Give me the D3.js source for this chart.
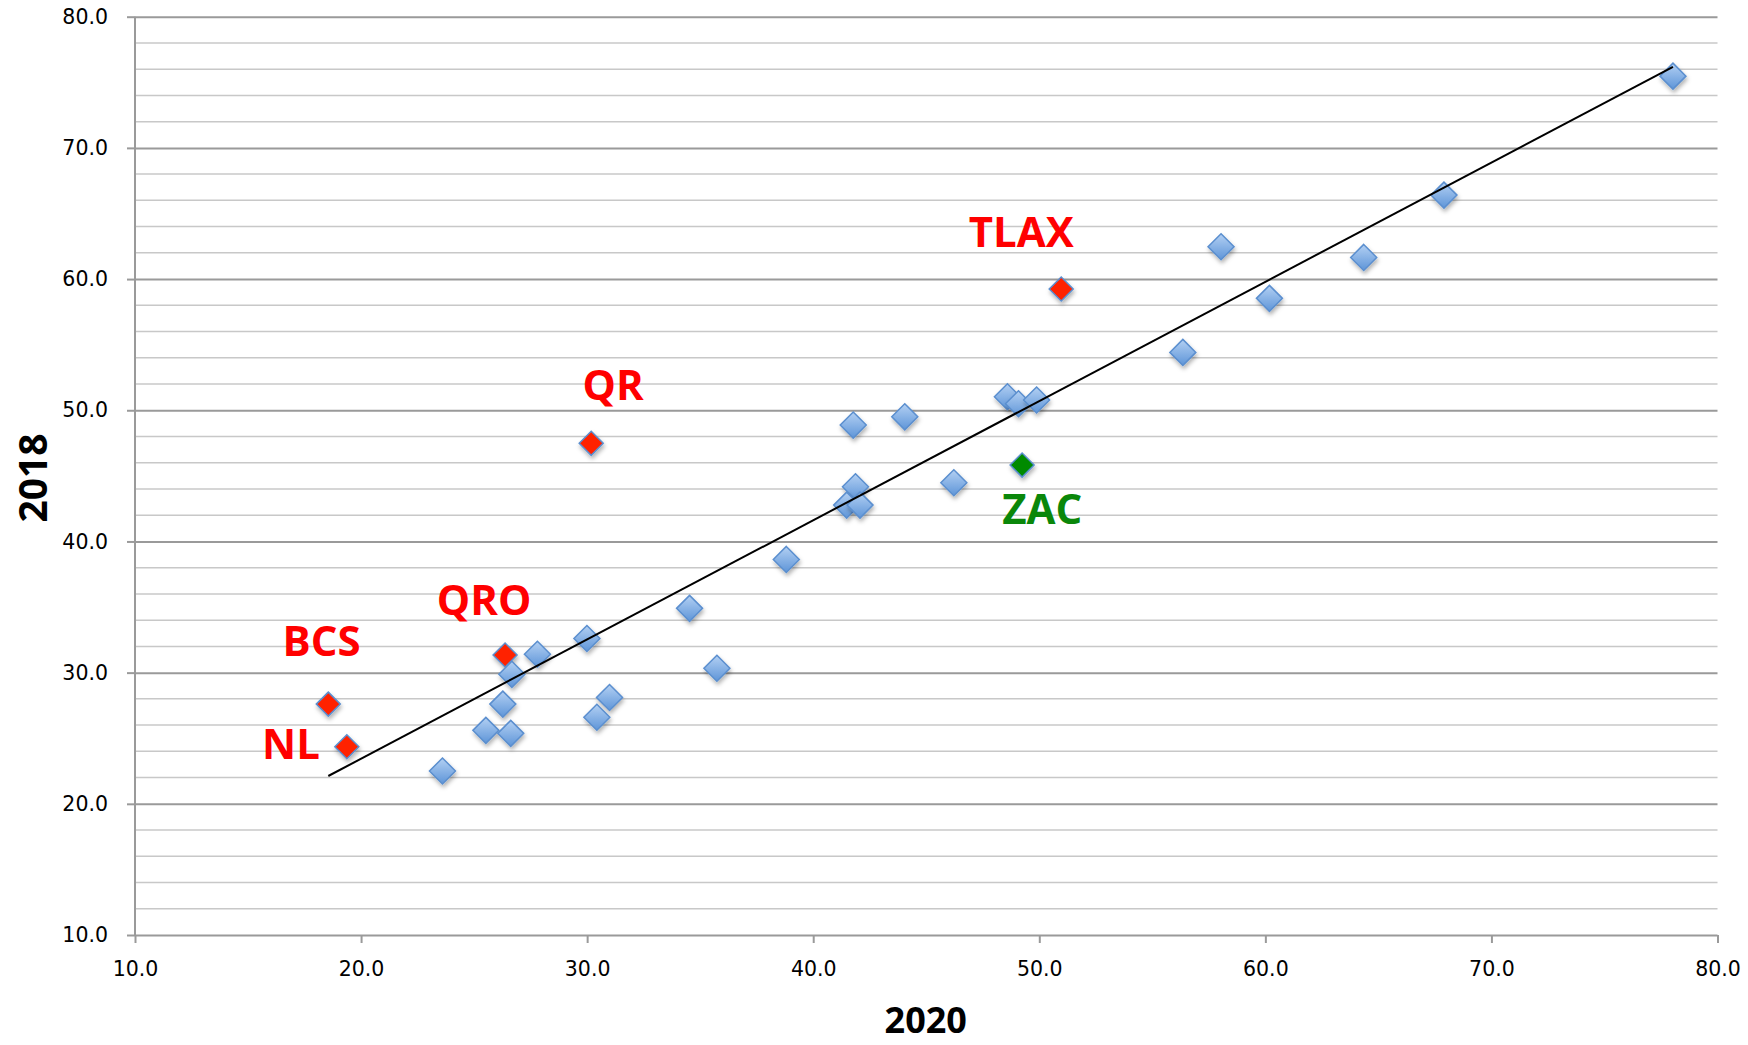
<!DOCTYPE html>
<html>
<head>
<meta charset="utf-8">
<script src="https://cdn.jsdelivr.net/npm/d3@7"></script>
<style>
  html, body { margin: 0; padding: 0; background: #fff; }
  svg { display: block; }
</style>
</head>
<body>
<svg id="chart" width="1748" height="1045"></svg>
<script>
// ---- data (x = 2020, y = 2018) ----
const xValues = [18.55, 19.37, 26.37, 27.8, 26.67, 26.27, 25.52, 26.62, 23.6, 29.99, 30.99, 30.43,
                 30.18, 41.77, 44.05, 48.59, 49.08, 49.88, 49.24, 46.22, 41.87, 41.48, 42.07, 38.81,
                 50.97, 58.04, 60.18, 64.35, 56.35, 67.9, 78.03, 34.53, 35.74];
const yValues = [27.6, 24.35, 31.34, 31.4, 29.87, 27.6, 25.6, 25.37, 22.5, 32.6, 28.1, 26.6,
                 47.48, 48.87, 49.5, 51.03, 50.5, 50.78, 45.82, 44.47, 44.17, 42.77, 42.77, 38.63,
                 59.24, 62.46, 58.53, 61.65, 54.41, 66.4, 75.47, 34.9, 30.33];
const groups  = ["red", "red", "red", "blue", "blue", "blue", "blue", "blue", "blue", "blue", "blue", "blue",
                 "red", "blue", "blue", "blue", "blue", "blue", "green", "blue", "blue", "blue", "blue", "blue",
                 "red", "blue", "blue", "blue", "blue", "blue", "blue", "blue", "blue"];
const trendX = [18.55, 78.03];
const trendY = [22.12, 76.18];
const labelTexts = ["TLAX", "QR", "QRO", "BCS", "NL", "ZAC"];
const labelX     = [49.2, 31.15, 25.44, 18.25, 16.9, 50.13];
const labelY     = [62.42, 50.75, 34.4, 31.25, 23.4, 41.3];
const labelGroup = ["red", "red", "red", "red", "red", "green"];
const xTicks = [10, 20, 30, 40, 50, 60, 70, 80];
const yTicks = [10, 20, 30, 40, 50, 60, 70, 80];
const xTitle = "2020";
const yTitle = "2018";

(function () {
// ---- layout ----
const svg = d3.select("#chart");
const mLeft = 135, mRight = 1717.5, mTop = 16.7, mBottom = 935;
const x = d3.scaleLinear().domain([10, 80]).range([mLeft, mRight]);
const y = d3.scaleLinear().domain([10, 80]).range([mBottom, mTop]);
const fmt = d3.format(".1f");
const labelFont = "'DejaVu Sans', sans-serif";
const boldFont = "'Open Sans', 'Liberation Sans', sans-serif";

const defs = svg.append("defs");
const grad = defs.append("linearGradient").attr("id", "blueGrad")
  .attr("x1", 0).attr("y1", 0).attr("x2", 0).attr("y2", 1);
grad.append("stop").attr("offset", "0%").attr("stop-color", "#b3d0f3");
grad.append("stop").attr("offset", "100%").attr("stop-color", "#5e95d8");
const shadow = defs.append("filter").attr("id", "shadow")
  .attr("x", "-50%").attr("y", "-50%").attr("width", "200%").attr("height", "200%");
shadow.append("feDropShadow").attr("dx", 1).attr("dy", 3).attr("stdDeviation", 2)
  .attr("flood-color", "#000").attr("flood-opacity", 0.3);

// minor gridlines every 2
const minor = d3.range(12, 80, 2).filter(v => v % 10 !== 0);
svg.append("g").selectAll("line").data(minor).join("line")
  .attr("x1", mLeft).attr("x2", mRight)
  .attr("y1", d => y(d)).attr("y2", d => y(d))
  .attr("stroke", "#c8c8c8").attr("stroke-width", 1.5);

// major gridlines via axis
const yAxis = svg.append("g").attr("transform", `translate(${mLeft},0)`)
  .call(d3.axisLeft(y).tickValues(yTicks).tickFormat(fmt).tickSize(8).tickPadding(19));
yAxis.select(".domain").remove();
yAxis.selectAll(".tick line").attr("stroke", "#9a9a9a").attr("stroke-width", 2);
yAxis.selectAll(".tick").append("line")
  .attr("x1", 0).attr("x2", mRight - mLeft)
  .attr("stroke", "#9a9a9a").attr("stroke-width", 2);
yAxis.selectAll("text").attr("font-family", labelFont).attr("font-size", "20.5px").attr("fill", "#000");

const xAxis = svg.append("g").attr("transform", `translate(0,${mBottom})`)
  .call(d3.axisBottom(x).tickValues(xTicks).tickFormat(fmt).tickSize(8).tickPadding(18));
xAxis.select(".domain").remove();
xAxis.selectAll(".tick line").attr("stroke", "#9a9a9a").attr("stroke-width", 2);
xAxis.selectAll("text").attr("font-family", labelFont).attr("font-size", "20.5px").attr("fill", "#000");

// y axis line
svg.append("line").attr("x1", mLeft).attr("x2", mLeft).attr("y1", mTop).attr("y2", mBottom)
  .attr("stroke", "#9a9a9a").attr("stroke-width", 2);

// points
const pts = xValues.map((v, i) => ({ x: v, y: yValues[i], g: groups[i] }));
const fills = { blue: "url(#blueGrad)", red: "#ff2200", green: "#008a00" };
const sizes = { blue: 13, red: 12, green: 12 };
svg.append("g").selectAll("path").data(pts).join("path")
  .attr("d", d => { const s = sizes[d.g]; return `M0,${-s}L${s},0L0,${s}L${-s},0Z`; })
  .attr("transform", d => `translate(${x(d.x)},${y(d.y)})`)
  .attr("fill", d => fills[d.g])
  .attr("stroke", "#5b8fcf").attr("stroke-width", 1.5)
  .attr("filter", "url(#shadow)");

// trendline
svg.append("line")
  .attr("x1", x(trendX[0])).attr("y1", y(trendY[0]))
  .attr("x2", x(trendX[1])).attr("y2", y(trendY[1]))
  .attr("stroke", "#000").attr("stroke-width", 2);

// labels
const labelColors = { red: "#ff0000", green: "#0a870a" };
svg.append("g").selectAll("text").data(labelTexts).join("text")
  .attr("x", (d, i) => x(labelX[i])).attr("y", (d, i) => y(labelY[i]))
  .attr("text-anchor", "middle")
  .attr("font-family", boldFont).attr("font-weight", "bold").attr("font-size", "42px")
  .attr("fill", (d, i) => labelColors[labelGroup[i]])
  .text(d => d);

// axis titles
svg.append("text").attr("x", (mLeft + mRight) / 2 - 0.5).attr("y", 1033)
  .attr("text-anchor", "middle").attr("font-family", boldFont).attr("font-weight", "bold")
  .attr("font-size", "36px").attr("fill", "#000").text(xTitle);
svg.append("text").attr("transform", "translate(47,478) rotate(-90)")
  .attr("text-anchor", "middle").attr("font-family", boldFont).attr("font-weight", "bold")
  .attr("font-size", "39px").attr("fill", "#000").text(yTitle);
})();
</script>
</body>
</html>
